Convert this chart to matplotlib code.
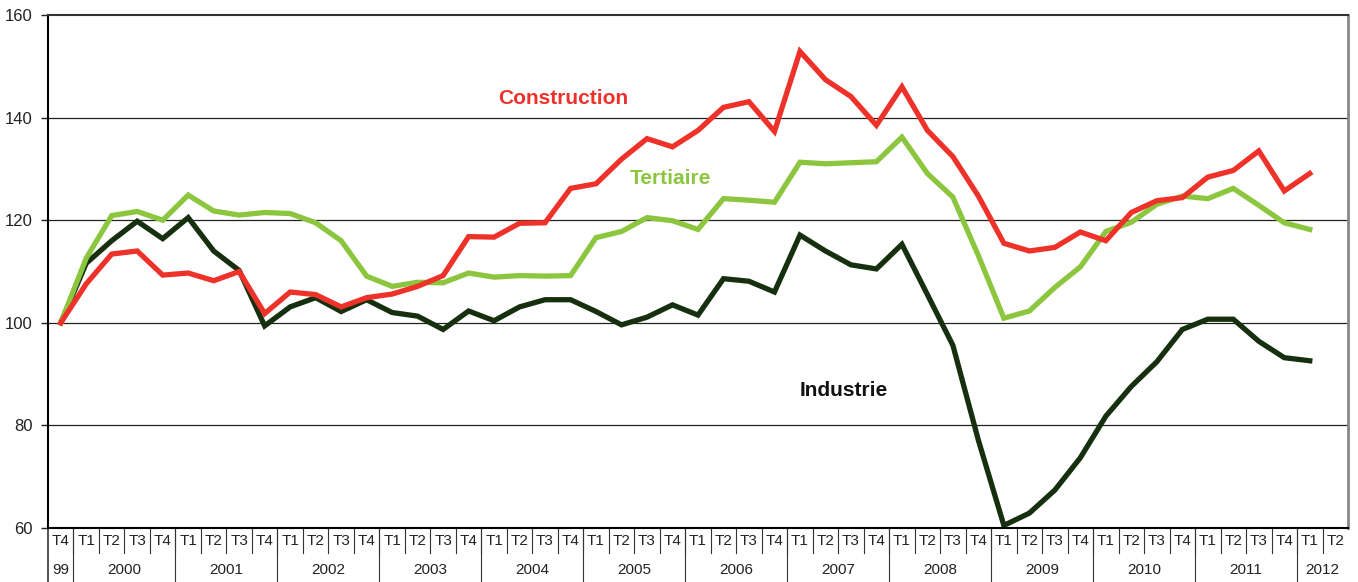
import matplotlib.pyplot as plt
import matplotlib.transforms as mtransforms

plt.rcParams['font.family'] = ['Liberation Sans', 'DejaVu Sans']

# quarters: T4 1999, then 2000..2011 T1-T4, 2012 T1-T2
quarters = ['T4'] + ['T1', 'T2', 'T3', 'T4'] * 12 + ['T1', 'T2']
years = ['99'] + [str(y) for y in range(2000, 2012)] + ['2012']
year_spans = [1] + [4] * 12 + [2]

construction = [100, 107.6, 113.4, 114.0, 109.3, 109.7, 108.2, 110.0, 101.8, 106.0,
                105.5, 103.1, 104.9, 105.6, 107.1, 109.2, 116.8, 116.7, 119.4, 119.5,
                126.2, 127.1, 131.9, 135.9, 134.3, 137.5, 142.0, 143.1, 137.3, 152.9,
                147.4, 144.1, 138.5, 146.0, 137.5, 132.4, 124.7, 115.5, 114.0, 114.7,
                117.7, 116.0, 121.5, 123.8, 124.4, 128.4, 129.7, 133.5, 125.7, 129.1]
tertiaire = [100, 112.6, 120.9, 121.7, 120.0, 124.9, 121.8, 121.0, 121.5, 121.3,
             119.5, 116.0, 109.1, 107.1, 107.9, 107.8, 109.7, 108.9, 109.2, 109.1,
             109.2, 116.6, 117.8, 120.5, 119.9, 118.2, 124.2, 123.9, 123.5, 131.3,
             131.0, 131.2, 131.4, 136.2, 129.1, 124.5, 113.1, 100.9, 102.3, 106.9,
             110.9, 117.8, 119.6, 123.1, 124.7, 124.2, 126.2, 122.9, 119.5, 118.2]
industrie = [100, 111.6, 116.0, 119.8, 116.4, 120.5, 114.0, 110.2, 99.4, 103.1,
             104.9, 102.2, 104.5, 102.0, 101.3, 98.7, 102.3, 100.4, 103.1, 104.5,
             104.5, 102.2, 99.6, 101.1, 103.5, 101.5, 108.6, 108.1, 106.0, 117.1,
             114.0, 111.3, 110.5, 115.3, 105.5, 95.6, 77.1, 60.5, 62.9, 67.4,
             73.7, 81.8, 87.6, 92.4, 98.7, 100.7, 100.7, 96.4, 93.2, 92.6]

red = '#ee3129'
green = '#8cc63f'
dark = '#16300f'

fig = plt.figure(figsize=(13.58, 5.82), dpi=100)
ax = fig.add_axes([48 / 1358, 54 / 582, 1300 / 1358, 513 / 582])

x = list(range(len(construction)))
ax.plot(x, industrie, color=dark, lw=3.8, solid_joinstyle='miter')
ax.plot(x, tertiaire, color=green, lw=3.8, solid_joinstyle='miter')
ax.plot(x, construction, color=red, lw=3.8, solid_joinstyle='miter')

ax.set_xlim(-0.5, len(quarters) - 0.5)
ax.set_ylim(60, 160)
ax.set_yticks([60, 80, 100, 120, 140, 160])
ax.tick_params(axis='y', labelsize=12, length=5, width=1, pad=6, colors='#222222')
ax.set_xticks([])
for v in [80, 100, 120, 140]:
    ax.axhline(v, color='#222222', lw=0.9, zorder=0)

ax.spines['top'].set_color('#333333')
ax.spines['top'].set_linewidth(1.5)
ax.spines['right'].set_color('#888888')
ax.spines['right'].set_linewidth(2)
ax.spines['left'].set_linewidth(1.5)
ax.spines['bottom'].set_linewidth(1.5)

# category table under the axis
trans = mtransforms.blended_transform_factory(ax.transData, ax.transAxes)
row1 = -25 / 513
bottom = -54 / 513
for i, q in enumerate(quarters):
    ax.text(i, -13 / 513, q, transform=trans, ha='center', va='center',
            fontsize=11, color='#222222')
    if i < len(quarters) - 1:
        ax.plot([i + 0.5, i + 0.5], [0, row1], transform=trans, color='#333333',
                lw=0.8, clip_on=False)

start = 0
for yr, span in zip(years, year_spans):
    ax.text(start + (span - 1) / 2, -42 / 513, yr, transform=trans, ha='center',
            va='center', fontsize=11, color='#222222')
    ax.plot([start - 0.5, start - 0.5], [0, bottom], transform=trans,
            color='#333333', lw=1.2 if start == 0 else 0.8, clip_on=False)
    start += span

ax.text(19.7, 143.8, 'Construction', color=red, fontsize=15, fontweight='bold',
        ha='center', va='center')
ax.text(23.9, 128.2, 'Tertiaire', color=green, fontsize=15, fontweight='bold',
        ha='center', va='center')
ax.text(30.7, 86.9, 'Industrie', color='#111111', fontsize=15, fontweight='bold',
        ha='center', va='center')

fig.savefig('out.png', dpi=100)
